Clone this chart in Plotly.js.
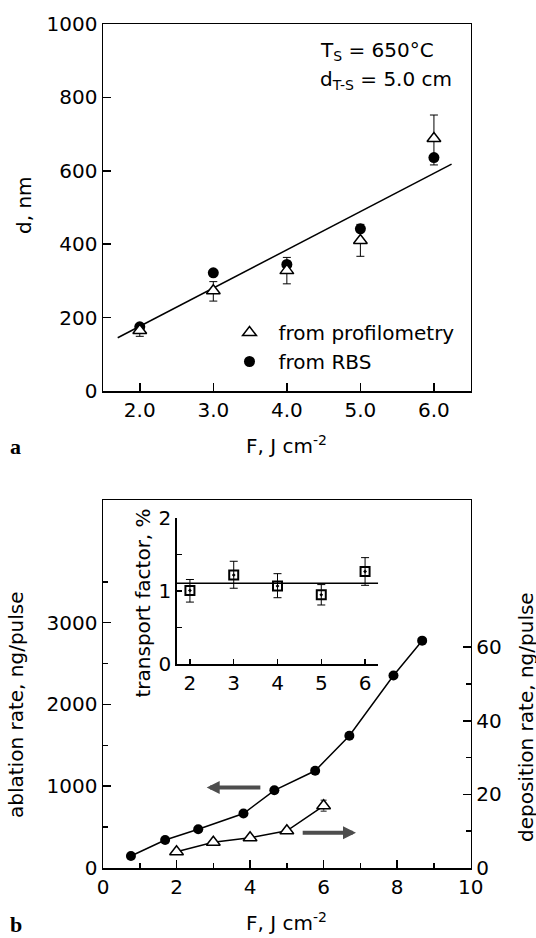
<!DOCTYPE html>
<html><head><meta charset="utf-8">
<script src="https://cdn.plot.ly/plotly-3.0.1.min.js"></script>
<style>html,body{margin:0;padding:0;background:#fff}</style>
</head><body><div id="chart" style="width:536px;height:938px"></div>
<script>
// ---------- Panel a data ----------
const fluenceA = [2.0, 3.0, 4.0, 5.0, 6.0];
const thickProfil = [165, 273, 328, 410, 688];
const thickProfilErrPlus = [16, 25, 36, 44, 64];
const thickProfilErrMinus = [16, 28, 36, 43, 72];
const thickRBS = [175, 322, 345, 442, 636];
const fitF = [1.7, 6.24];
const fitD = [145, 618];
const ticksA_x = [2, 3, 4, 5, 6];
const ticksA_y = [0, 200, 400, 600, 800, 1000];

// ---------- Panel b data ----------
const fluenceAbl = [0.76, 1.69, 2.59, 3.82, 4.66, 5.77, 6.70, 7.90, 8.68];
const ablationRate = [147, 343, 474, 666, 950, 1189, 1618, 2354, 2780];
const fluenceDep = [2, 3, 4, 5, 6];
const depositionRate = [4.4, 7.0, 8.2, 10.1, 16.9];
const depositionErr = [0, 0, 0, 0, 1.5];
const ticksB_x = [0, 2, 4, 6, 8, 10];
const ticksB_yL = [0, 1000, 2000, 3000];
const minorB_yL = [500, 1500, 2500, 3500];
const ticksB_yR = [0, 20, 40, 60];
const minorB_yR = [10, 30, 50];

// ---------- Inset data ----------
const fluenceTF = [2, 3, 4, 5, 6];
const transportFactor = [1.01, 1.22, 1.07, 0.95, 1.27];
const transportErrPlus = [0.15, 0.19, 0.17, 0.14, 0.19];
const transportErrMinus = [0.16, 0.18, 0.16, 0.14, 0.19];
const transportMeanF = [1.7, 6.3];
const transportMean = [1.11, 1.11];
const ticksI_x = [2, 3, 4, 5, 6];
const ticksI_y = [0, 1, 2];
const minorI_y = [0.5, 1.5];

const W = 536, H = 938;
const FONT = 'DejaVu Sans';
const px = v => v / W;
const py = v => 1 - v / H;

const traces = [
  {x: fitF, y: fitD, xaxis: 'x', yaxis: 'y', mode: 'lines', line: {color: '#000', width: 1.5}, showlegend: false, hoverinfo: 'skip'},
  {x: fluenceA, y: thickRBS, xaxis: 'x', yaxis: 'y', mode: 'markers', name: 'from RBS', legendrank: 2,
   marker: {symbol: 'circle', size: 11, color: '#000'}},
  {x: fluenceA, y: thickProfil, xaxis: 'x', yaxis: 'y', mode: 'markers', name: 'from profilometry', legendrank: 1,
   marker: {symbol: 'triangle-up', size: 12, color: '#fff', line: {color: '#000', width: 1.5}},
   error_y: {type: 'data', array: thickProfilErrPlus, arrayminus: thickProfilErrMinus, symmetric: false, color: '#000', thickness: 1, width: 4}},
  {x: fluenceAbl, y: ablationRate, xaxis: 'x2', yaxis: 'y2', mode: 'lines+markers', showlegend: false,
   line: {color: '#000', width: 1.5}, marker: {symbol: 'circle', size: 10, color: '#000'}},
  {x: fluenceDep, y: depositionRate, xaxis: 'x2', yaxis: 'y3', mode: 'lines+markers', showlegend: false,
   line: {color: '#000', width: 1.5}, marker: {symbol: 'triangle-up', size: 12, color: '#fff', line: {color: '#000', width: 1.5}},
   error_y: {type: 'data', array: depositionErr, color: '#666', thickness: 1.5, width: 3}},
  {x: transportMeanF, y: transportMean, xaxis: 'x4', yaxis: 'y4', mode: 'lines', showlegend: false,
   line: {color: '#000', width: 1.5}},
  {x: fluenceTF, y: transportFactor, xaxis: 'x4', yaxis: 'y4', mode: 'markers', showlegend: false,
   marker: {symbol: 'square-open-dot', size: 9, color: '#000', line: {color: '#000', width: 2}},
   error_y: {type: 'data', array: transportErrPlus, arrayminus: transportErrMinus, symmetric: false, color: '#000', thickness: 1, width: 4}}
];

const base = o => Object.assign({
  showgrid: false, zeroline: false, showline: true, linecolor: '#000', linewidth: 1.5,
  ticks: 'inside', ticklen: 8, tickwidth: 1.5, tickcolor: '#000',
  tickfont: {family: FONT, size: 20, color: '#000'}, fixedrange: true, automargin: false
}, o);

const dxDom = [px(103), px(470.7)];

const layout = {
  width: W, height: H, margin: {l: 0, r: 0, t: 0, b: 0},
  paper_bgcolor: '#fff', plot_bgcolor: 'rgba(0,0,0,0)',
  font: {family: FONT, size: 20, color: '#000'},
  showlegend: true,
  legend: {x: px(248.5 - 28), y: py(313), xanchor: 'left', yanchor: 'top', itemwidth: 48,
    font: {family: FONT, size: 20, color: '#000'}, bgcolor: 'rgba(0,0,0,0)', borderwidth: 0, tracegroupgap: 0},
  xaxis: base({domain: dxDom, range: [1.5, 6.5], tickmode: 'array', tickvals: ticksA_x, tickformat: '.1f', mirror: true, anchor: 'y'}),
  yaxis: base({domain: [py(391), py(24)], range: [0, 1000], tickmode: 'array', tickvals: ticksA_y, mirror: true, anchor: 'x'}),
  xaxis2: base({domain: dxDom, range: [0, 10], tickmode: 'array', tickvals: ticksB_x, mirror: true, anchor: 'y2',
    minor: {tickmode: 'linear', tick0: 1, dtick: 2, ticks: 'inside', ticklen: 5, tickwidth: 1.5, tickcolor: '#000'}}),
  yaxis2: base({domain: [py(868), py(500)], range: [0, 4500], tickmode: 'array', tickvals: ticksB_yL, mirror: true, anchor: 'x2',
    minor: {tickmode: 'array', tickvals: minorB_yL, ticks: 'inside', ticklen: 5, tickwidth: 1.5, tickcolor: '#000'}}),
  yaxis3: base({overlaying: 'y2', side: 'right', range: [0, 100], tickmode: 'array', tickvals: ticksB_yR, anchor: 'x2',
    minor: {tickmode: 'array', tickvals: minorB_yR, ticks: 'inside', ticklen: 5, tickwidth: 1.5, tickcolor: '#000'}}),
  xaxis4: base({domain: [px(176.8), px(378.2)], range: [1.7, 6.3], tickmode: 'array', tickvals: ticksI_x, anchor: 'y4', ticklen: 5}),
  yaxis4: base({domain: [py(664), py(518.3)], range: [0, 2], tickmode: 'array', tickvals: ticksI_y, anchor: 'x4', ticklen: 5,
    minor: {tickmode: 'array', tickvals: minorI_y, ticks: 'inside', ticklen: 5, tickwidth: 1.5, tickcolor: '#000'}}),
  annotations: [
    {text: 'd, nm', xref: 'paper', yref: 'paper', x: px(24), y: py(205), textangle: -90, showarrow: false, xanchor: 'center', yanchor: 'middle'},
    {text: 'F, J cm<sup>-2</sup>', xref: 'paper', yref: 'paper', x: px(286), y: py(445), showarrow: false, xanchor: 'center', yanchor: 'middle'},
    {text: '<b>a</b>', xref: 'paper', yref: 'paper', x: px(15), y: py(447), showarrow: false, xanchor: 'center', yanchor: 'middle',
     font: {family: 'Liberation Serif', size: 22, color: '#000'}},
    {text: 'T<sub>S</sub> = 650°C', xref: 'paper', yref: 'paper', x: px(318), y: py(51), showarrow: false, xanchor: 'left', yanchor: 'middle'},
    {text: 'd<sub>T-S</sub> = 5.0 cm', xref: 'paper', yref: 'paper', x: px(318), y: py(80), showarrow: false, xanchor: 'left', yanchor: 'middle'},
    {text: 'F, J cm<sup>-2</sup>', xref: 'paper', yref: 'paper', x: px(286), y: py(922), showarrow: false, xanchor: 'center', yanchor: 'middle'},
    {text: '<b>b</b>', xref: 'paper', yref: 'paper', x: px(16), y: py(924), showarrow: false, xanchor: 'center', yanchor: 'middle',
     font: {family: 'Liberation Serif', size: 22, color: '#000'}},
    {text: 'ablation rate, ng/pulse', xref: 'paper', yref: 'paper', x: px(16), y: py(705), textangle: -90, showarrow: false, xanchor: 'center', yanchor: 'middle'},
    {text: 'deposition rate, ng/pulse', xref: 'paper', yref: 'paper', x: px(526), y: py(717), textangle: -90, showarrow: false, xanchor: 'center', yanchor: 'middle'},
    {text: 'transport factor, %', xref: 'paper', yref: 'paper', x: px(142.5), y: py(603), textangle: -90, showarrow: false, xanchor: 'center', yanchor: 'middle'},
    {text: '', xref: 'x2', yref: 'y2', axref: 'x2', ayref: 'y2', x: 2.82, y: 985, ax: 4.32, ay: 985, showarrow: true,
     arrowhead: 2, arrowsize: 0.65, arrowwidth: 4, arrowcolor: '#4d4d4d', standoff: 0, startstandoff: 0},
    {text: '', xref: 'x2', yref: 'y3', axref: 'x2', ayref: 'y3', x: 6.88, y: 9.6, ax: 5.39, ay: 9.6, showarrow: true,
     arrowhead: 2, arrowsize: 0.65, arrowwidth: 4, arrowcolor: '#4d4d4d', standoff: 0, startstandoff: 0}
  ]
};

Plotly.newPlot('chart', traces, layout, {staticPlot: true, displayModeBar: false});
</script>
</body></html>
